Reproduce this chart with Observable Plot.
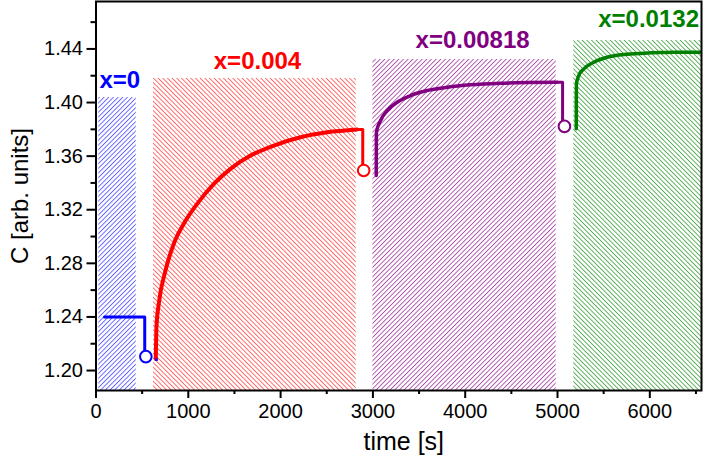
<!DOCTYPE html>
<html>
<head>
<meta charset="utf-8">
<script src="https://cdn.jsdelivr.net/npm/d3@7"></script>
<script src="https://cdn.jsdelivr.net/npm/@observablehq/plot@0.6"></script>
<style>
  html, body { margin: 0; padding: 0; background: #fff; }
</style>
</head>
<body>
<svg width="0" height="0" style="position:absolute">
  <defs>
    <pattern id="hatchBlue" patternUnits="userSpaceOnUse" width="3.3" height="10" patternTransform="rotate(45)">
      <rect x="0" y="0" width="0.9" height="10" fill="rgb(40,40,255)" fill-opacity="0.75"/>
    </pattern>
    <pattern id="hatchRed" patternUnits="userSpaceOnUse" width="3.3" height="10" patternTransform="rotate(-45)">
      <rect x="0" y="0" width="0.9" height="10" fill="rgb(255,40,40)" fill-opacity="0.75"/>
    </pattern>
    <pattern id="hatchPurple" patternUnits="userSpaceOnUse" width="3.3" height="10" patternTransform="rotate(45)">
      <rect x="0" y="0" width="0.9" height="10" fill="rgb(140,20,140)" fill-opacity="0.75"/>
    </pattern>
    <pattern id="hatchGreen" patternUnits="userSpaceOnUse" width="3.3" height="10" patternTransform="rotate(-45)">
      <rect x="0" y="0" width="0.9" height="10" fill="rgb(20,140,20)" fill-opacity="0.75"/>
    </pattern>
  </defs>
</svg>
<div id="chart"></div>
<script>
// ---- data ----
const seriesLabels = ["x=0", "x=0.004", "x=0.00818", "x=0.0132"];
const labelT = [38, 1276, 3462, 5441];
const labelC = [1.4112, 1.4251, 1.4408, 1.4562];

const hatchStart = [30, 623, 3000, 5176];
const hatchEnd = [436, 2819, 4986, 6560];
const hatchTop = [1.4037, 1.4179, 1.4321, 1.4463];

const blueStepT = [92, 528, 528];
const blueStepC = [1.24, 1.24, 1.2104];

const redCurveT = [648, 655, 680, 753, 843, 951, 1096, 1277, 1457, 1674, 1926, 2216, 2504, 2830];
const redCurveC = [1.2087, 1.2323, 1.2498, 1.2746, 1.2946, 1.3095, 1.3244, 1.3393, 1.3505, 1.3604, 1.3679, 1.3741, 1.3778, 1.3799];
const redStepT = [2830, 2890, 2890];
const redStepC = [1.3799, 1.3799, 1.3493];

const purpleCurveT = [3036, 3038, 3083, 3155, 3263, 3407, 3589, 3805, 4058, 4382, 4672, 4997];
const purpleCurveC = [1.3455, 1.3778, 1.3866, 1.3940, 1.4002, 1.4052, 1.4090, 1.4114, 1.4132, 1.4144, 1.4149, 1.4151];
const purpleStepT = [4997, 5055, 5055];
const purpleStepC = [1.4151, 1.4151, 1.3822];

const greenCurveT = [5203, 5205, 5231, 5285, 5393, 5538, 5718, 5935, 6116, 6260, 6544];
const greenCurveC = [1.3804, 1.4140, 1.4201, 1.4251, 1.4301, 1.4338, 1.4358, 1.4368, 1.4373, 1.4375, 1.4375];

const circleT = [540, 2900, 5075];
const circleC = [1.2104, 1.3493, 1.3822];

const markerT = [655];
const markerC = [1.2082];

const xMajorTicks = [0, 1000, 2000, 3000, 4000, 5000, 6000];
const xMinorTicks = [500, 1500, 2500, 3500, 4500, 5500, 6500];
const yMajorTicks = [1.20, 1.24, 1.28, 1.32, 1.36, 1.40, 1.44];
const yMinorTicks = [1.22, 1.26, 1.30, 1.34, 1.38, 1.42, 1.46];

const xDomain = [0, 6560];
const yDomain = [1.1851, 1.4754];

// ---- styles ----
const colors = ["#0000ff", "#ff0000", "#800080", "#008000"];
const patterns = ["url(#hatchBlue)", "url(#hatchRed)", "url(#hatchPurple)", "url(#hatchGreen)"];

const pts = (T, C) => T.map((t, i) => ({t, c: C[i]}));

const marks = [];
// hatched regions
for (let i = 0; i < hatchStart.length; i++) {
  marks.push(Plot.rect([i], {
    x1: d => hatchStart[d], x2: d => hatchEnd[d],
    y1: () => yDomain[0], y2: d => hatchTop[d],
    fill: patterns[i]
  }));
}
// curves
marks.push(Plot.line(pts(blueStepT, blueStepC), {x: "t", y: "c", stroke: colors[0], strokeWidth: 3}));
marks.push(Plot.line(pts(redCurveT, redCurveC), {x: "t", y: "c", stroke: colors[1], strokeWidth: 4, curve: "monotone-x"}));
marks.push(Plot.line(pts(redStepT, redStepC), {x: "t", y: "c", stroke: colors[1], strokeWidth: 3}));
marks.push(Plot.line(pts(purpleCurveT, purpleCurveC), {x: "t", y: "c", stroke: colors[2], strokeWidth: 3.5, curve: "monotone-x"}));
marks.push(Plot.line(pts(purpleStepT, purpleStepC), {x: "t", y: "c", stroke: colors[2], strokeWidth: 3}));
marks.push(Plot.line(pts(greenCurveT, greenCurveC), {x: "t", y: "c", stroke: colors[3], strokeWidth: 3.5, curve: "monotone-x"}));
// open circles
for (let i = 0; i < circleT.length; i++) {
  marks.push(Plot.dot([i], {x: d => circleT[d], y: d => circleC[d], r: 5.8, fill: "white", stroke: colors[i], strokeWidth: 2}));
}
marks.push(Plot.dot(pts(markerT, markerC), {x: "t", y: "c", symbol: "square", r: 1.6, fill: "#3010d0"}));
// labels
for (let i = 0; i < seriesLabels.length; i++) {
  marks.push(Plot.text([i], {
    x: d => labelT[d], y: d => labelC[d], text: d => seriesLabels[d],
    fill: colors[i], fontSize: 24, fontWeight: "bold",
    textAnchor: "start", lineAnchor: "bottom"
  }));
}
// axes
marks.push(Plot.axisX({ticks: xMajorTicks, tickSize: 8, tickPadding: 5, fontSize: 20, strokeWidth: 2, tickFormat: d => String(d), label: null}));
marks.push(Plot.axisX({ticks: xMinorTicks, tickSize: 4, fill: "none", strokeWidth: 2, label: null}));
marks.push(Plot.axisY({ticks: yMajorTicks, tickSize: 9, tickPadding: 4, fontSize: 20, strokeWidth: 2, tickFormat: d => d.toFixed(2), label: null}));
marks.push(Plot.axisY({ticks: yMinorTicks, tickSize: 5, fill: "none", strokeWidth: 2, label: null}));
// axis titles
marks.push(Plot.text(["C [arb. units]"], {text: d => d, frameAnchor: "left", rotate: -90, dx: -76, fontSize: 24, textAnchor: "middle", lineAnchor: "middle"}));
marks.push(Plot.text(["time [s]"], {text: d => d, frameAnchor: "bottom", dx: 5, dy: 51, fontSize: 25, textAnchor: "middle", lineAnchor: "middle"}));
marks.push(Plot.frame({stroke: "black", strokeWidth: 2}));

const chart = Plot.plot({
  width: 705,
  height: 463,
  marginLeft: 95.5,
  marginRight: 4,
  marginTop: 1,
  marginBottom: 73,
  x: {domain: xDomain, label: null},
  y: {domain: yDomain, label: null},
  style: {fontFamily: "'Liberation Sans', Arial, sans-serif", background: "white", color: "black", overflow: "visible"},
  marks
});
document.getElementById("chart").appendChild(chart);
</script>
</body>
</html>
